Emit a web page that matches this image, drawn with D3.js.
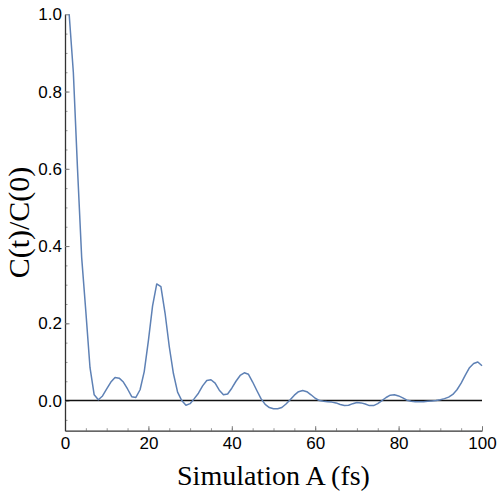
<!DOCTYPE html>
<html>
<head>
<meta charset="utf-8">
<script src="https://cdn.jsdelivr.net/npm/d3@7"></script>
<style>
  body { margin: 0; background: #fff; }
  .tick text { font-family: "Liberation Sans", Arial, sans-serif; font-size: 17px; fill: #000; }
  .axis-title { font-family: "Liberation Serif", "Times New Roman", serif; font-size: 28px; fill: #000; }
</style>
</head>
<body>
<div class="dgraph"></div>
<script>
// time (fs) and normalised correlation C(t)/C(0)
var times = d3.range(1, 101);
var corr = [
  1.0, 0.85, 0.60, 0.37, 0.23, 0.085, 0.015, 0.002, 0.012, 0.03,
  0.048, 0.06, 0.058, 0.048, 0.03, 0.01, 0.008, 0.028, 0.075, 0.155,
  0.245, 0.302, 0.295, 0.226, 0.14, 0.07, 0.022, 0.0, -0.012, -0.008,
  0.005, 0.019, 0.038, 0.052, 0.054, 0.045, 0.027, 0.015, 0.017, 0.032,
  0.05, 0.065, 0.072, 0.068, 0.048, 0.026, 0.005, -0.01, -0.018, -0.021,
  -0.021, -0.018, -0.009, 0.002, 0.014, 0.023, 0.026, 0.023, 0.015, 0.006,
  0.0, -0.002, -0.003, -0.004, -0.006, -0.01, -0.013, -0.012, -0.008, -0.005,
  -0.006, -0.009, -0.013, -0.013, -0.008, 0.0, 0.008, 0.014, 0.015, 0.012,
  0.007, 0.001, -0.002, -0.003, -0.003, -0.003, -0.002, -0.001, 0.0, 0.002,
  0.005, 0.009, 0.016, 0.028, 0.045, 0.066, 0.085, 0.096, 0.1, 0.09
];
var xTicks = [0, 20, 40, 60, 80, 100];
var xMinor = d3.range(0, 101, 5);
var yTicks = [0, 0.2, 0.4, 0.6, 0.8, 1.0];
var yMinor = d3.range(-0.05, 1.0, 0.05);

var width = 498, height = 498;
var mLeft = 65, mRight = 482, mTop = 14.3, mBottom = 430.7;

var x = d3.scaleLinear().domain([0, 100]).range([mLeft, mRight]);
var y = d3.scaleLinear().domain([-0.078, 1.0]).range([mBottom, mTop]);

var svg = d3.select("body .dgraph").append("svg")
  .attr("width", width).attr("height", height);

// minor ticks (inward)
svg.append("g").attr("transform", "translate(0," + mBottom + ")")
  .call(d3.axisBottom(x).tickValues(xMinor).tickSizeInner(-2.5).tickSizeOuter(0).tickFormat(""))
  .call(function(g){ g.select(".domain").remove(); g.selectAll("line").attr("stroke", "#999"); });
svg.append("g").attr("transform", "translate(" + mLeft + ",0)")
  .call(d3.axisLeft(y).tickValues(yMinor).tickSizeInner(-2.5).tickSizeOuter(0).tickFormat(""))
  .call(function(g){ g.select(".domain").remove(); g.selectAll("line").attr("stroke", "#999"); });

// major axes
svg.append("g").attr("transform", "translate(0," + mBottom + ")")
  .call(d3.axisBottom(x).tickValues(xTicks).tickSizeInner(-4.5).tickSizeOuter(0).tickPadding(6).tickFormat(d3.format("d")))
  .call(function(g){
    g.select(".domain").attr("stroke", "#333").attr("stroke-width", 1.3);
    g.selectAll(".tick line").attr("stroke", "#777");
  });
svg.append("g").attr("transform", "translate(" + mLeft + ",0)")
  .call(d3.axisLeft(y).tickValues(yTicks).tickSizeInner(-4.5).tickSizeOuter(0).tickPadding(3).tickFormat(d3.format(".1f")))
  .call(function(g){
    g.select(".domain").attr("stroke", "#333").attr("stroke-width", 1.3);
    g.selectAll(".tick line").attr("stroke", "#777");
  });

// zero line
svg.append("line")
  .attr("x1", x(0)).attr("x2", x(100))
  .attr("y1", y(0)).attr("y2", y(0))
  .attr("stroke", "#111").attr("stroke-width", 1.4);

// data line
var line = d3.line()
  .x(function(d, i){ return x(times[i]); })
  .y(function(d){ return y(d); });

svg.append("path")
  .datum(corr)
  .attr("d", line)
  .attr("fill", "none")
  .attr("stroke", "#5E81B5")
  .attr("stroke-width", 1.5)
  .attr("stroke-linejoin", "round");

// axis titles
svg.append("text").attr("class", "axis-title")
  .attr("x", (mLeft + mRight) / 2).attr("y", 485)
  .attr("text-anchor", "middle")
  .text("Simulation A (fs)");

svg.append("text").attr("class", "axis-title")
  .attr("transform", "translate(29," + ((mTop + mBottom) / 2) + ") rotate(-90)")
  .attr("text-anchor", "middle")
  .style("font-size", "30px")
  .text("C(t)/C(0)");
</script>
</body>
</html>
